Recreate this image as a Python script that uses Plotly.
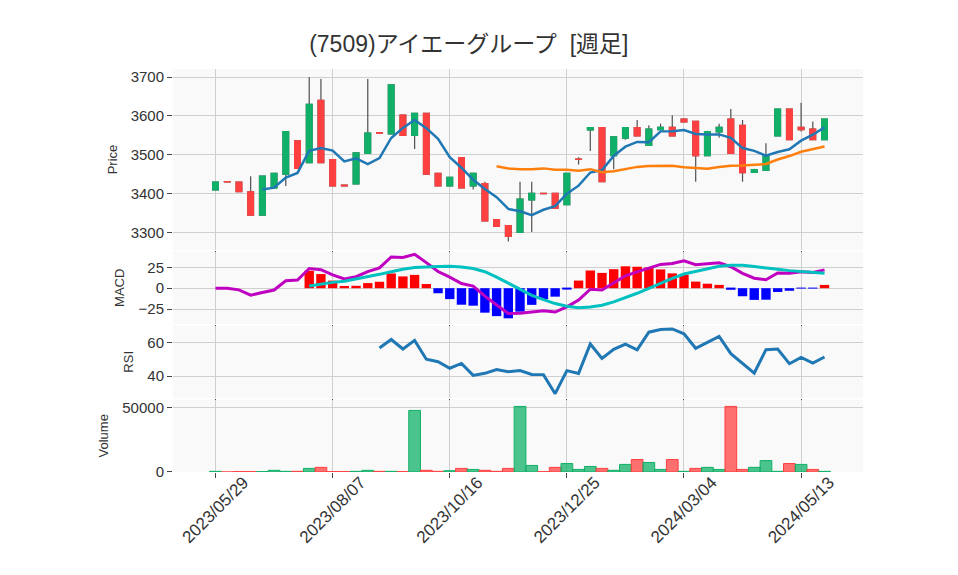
import numpy as np
import pandas as pd
import plotly.graph_objects as go
from plotly.subplots import make_subplots

# weekly bars, 2023/05/29 .. 2024/05/27
dates = pd.date_range("2023-05-29", periods=53, freq="W-MON")

open_ = [3410, 3431, 3430, 3405, 3345, 3415, 3450, 3536, 3480, 3640,
         3488, 3422, 3425, 3504, 3557, 3554, 3602, 3550, 3607, 3452,
         3420, 3493, 3420, 3426, 3333, 3318, 3300, 3384, 3401, 3401,
         3372, 3489, 3564, 3570, 3498, 3543, 3570, 3524, 3565, 3571,
         3592, 3586, 3498, 3559, 3592, 3576, 3455, 3460, 3549, 3618,
         3571, 3566, 3539]
high = [3430, 3431, 3430, 3445, 3445, 3452, 3560, 3536, 3700, 3695,
        3488, 3422, 3505, 3695, 3557, 3680, 3602, 3607, 3607, 3452,
        3442, 3493, 3452, 3431, 3333, 3318, 3431, 3431, 3401, 3401,
        3452, 3494, 3570, 3570, 3546, 3570, 3590, 3576, 3580, 3602,
        3592, 3586, 3562, 3580, 3618, 3590, 3464, 3530, 3618, 3618,
        3634, 3586, 3592]
low = [3410, 3430, 3405, 3345, 3345, 3415, 3420, 3465, 3480, 3480,
       3420, 3420, 3425, 3504, 3556, 3554, 3550, 3515, 3450, 3420,
       3420, 3415, 3411, 3330, 3316, 3277, 3300, 3301, 3400, 3362,
       3372, 3475, 3510, 3431, 3463, 3539, 3549, 3524, 3565, 3549,
       3585, 3431, 3498, 3544, 3504, 3431, 3455, 3460, 3549, 3539,
       3560, 3539, 3539]
close = [3430, 3430, 3405, 3345, 3445, 3452, 3560, 3465, 3630, 3480,
         3420, 3420, 3505, 3556, 3556, 3680, 3550, 3607, 3450, 3420,
         3442, 3415, 3452, 3330, 3316, 3290, 3386, 3401, 3400, 3362,
         3452, 3488, 3570, 3431, 3546, 3570, 3549, 3566, 3571, 3549,
         3585, 3498, 3560, 3571, 3504, 3454, 3462, 3498, 3618, 3539,
         3565, 3539, 3592]
volume = [500, 0, 300, 300, 300, 1300, 500, 500, 2800, 3600,
          300, 300, 500, 1300, 500, 500, 300, 47900, 1300, 500,
          1000, 2800, 2000, 1300, 500, 2800, 51000, 5100, 250, 3600,
          6600, 2000, 4300, 2800, 1300, 5900, 9700, 7400, 2000, 9700,
          500, 2800, 3600, 2000, 51000, 2000, 3600, 8900, 500, 6600,
          5900, 2000, 500]

df = pd.DataFrame({"Open": open_, "High": high, "Low": low,
                   "Close": close, "Volume": volume}, index=dates)

# indicators
df["MA5"] = df["Close"].rolling(5).mean()
df["MA25"] = df["Close"].rolling(25).mean()
ema12 = df["Close"].ewm(span=12, adjust=False).mean()
ema26 = df["Close"].ewm(span=26, adjust=False).mean()
df["MACD"] = ema12 - ema26
df["Signal"] = df["MACD"].rolling(9).mean()
df["Hist"] = df["MACD"] - df["Signal"]
diff = df["Close"].diff()
gain = diff.clip(lower=0).rolling(14).mean()
loss = (-diff.clip(upper=0)).rolling(14).mean()
df["RSI"] = 100 * gain / (gain + loss)

GREEN = "#10B068"
RED = "#FF4040"
up = np.r_[True, np.diff(df["Close"].values) > 0]
vol_fill = np.where(up, "rgba(16,176,104,0.75)", "rgba(255,64,64,0.75)")
vol_line = np.where(up, GREEN, RED)
hist_col = np.where(df["Hist"] >= 0, "#FF0000", "#0000FF")

fig = make_subplots(rows=4, cols=1, shared_xaxes=True, vertical_spacing=0.004,
                    row_heights=[2.5, 1, 1, 1])

# wicks (gray), then coloured bodies on top
fig.add_trace(go.Candlestick(x=df.index, open=df["Open"], high=df["High"],
                             low=df["Low"], close=df["Close"],
                             increasing=dict(line=dict(color="#505050", width=1.2), fillcolor="#505050"),
                             decreasing=dict(line=dict(color="#505050", width=1.2), fillcolor="#505050"),
                             showlegend=False, hoverinfo="skip"), row=1, col=1)
body_hi = df[["Open", "Close"]].max(axis=1)
body_lo = df[["Open", "Close"]].min(axis=1)
fig.add_trace(go.Candlestick(x=df.index, open=df["Open"], high=body_hi,
                             low=body_lo, close=df["Close"],
                             increasing=dict(line=dict(color=GREEN, width=1.2), fillcolor=GREEN),
                             decreasing=dict(line=dict(color=RED, width=1.2), fillcolor=RED),
                             showlegend=False, name="Price"), row=1, col=1)
fig.add_trace(go.Scatter(x=df.index, y=df["MA5"], mode="lines",
                         line=dict(color="#1f77b4", width=2.5), showlegend=False), row=1, col=1)
fig.add_trace(go.Scatter(x=df.index, y=df["MA25"], mode="lines",
                         line=dict(color="#ff7f0e", width=2.5), showlegend=False), row=1, col=1)

# MACD
fig.add_trace(go.Bar(x=df.index, y=df["Hist"], marker=dict(color=hist_col, line=dict(width=0)),
                     showlegend=False), row=2, col=1)
fig.add_trace(go.Scatter(x=df.index, y=df["MACD"], mode="lines",
                         line=dict(color="#C000C0", width=3), showlegend=False), row=2, col=1)
fig.add_trace(go.Scatter(x=df.index, y=df["Signal"], mode="lines",
                         line=dict(color="#00C0C0", width=3), showlegend=False), row=2, col=1)

# RSI
fig.add_trace(go.Scatter(x=df.index, y=df["RSI"], mode="lines",
                         line=dict(color="#1f77b4", width=3), showlegend=False), row=3, col=1)

# Volume
fig.add_trace(go.Bar(x=df.index, y=df["Volume"], width=7 * 86400000,
                     marker=dict(color=vol_fill, line=dict(color=vol_line, width=1)),
                     showlegend=False), row=4, col=1)

ticks = pd.date_range("2023-05-29", periods=6, freq="70D")
fig.update_xaxes(range=["2023-05-03 14:00", "2024-06-19"], tickvals=ticks,
                 tickformat="%Y/%m/%d", tickangle=-45, showgrid=True,
                 gridcolor="#CFCFCF", ticks="outside", ticklen=5,
                 tickfont=dict(size=17), ticklabelshift=28, ticklabelstandoff=-12,
                 automargin=False, rangeslider_visible=False, zeroline=False)
fig.update_yaxes(showgrid=True, gridcolor="#CFCFCF", ticks="outside", ticklen=5,
                 tickfont=dict(size=15), title_font=dict(size=13),
                 title_standoff=10, automargin=True, zeroline=False)
fig.update_yaxes(title_text="Price", range=[3255, 3721], dtick=100, row=1, col=1)
fig.update_yaxes(title_text="MACD", range=[-43, 44], tickvals=[-25, 0, 25], row=2, col=1)
fig.update_yaxes(title_text="RSI", range=[26.8, 70.5], tickvals=[40, 60], row=3, col=1)
fig.update_yaxes(title_text="Volume", range=[0, 56300], tickvals=[0, 50000],
                 tickformat="d", row=4, col=1)

fig.update_layout(
    width=958, height=575,
    template="plotly_white",
    plot_bgcolor="#F9F9F9",
    font=dict(family="Liberation Sans, Noto Sans CJK JP", size=13, color="#333"),
    title=dict(text="(7509)アイエーグループ  [週足]", x=0.481, xanchor="center",
               y=0.937, yanchor="middle", font=dict(size=23)),
    margin=dict(l=165, r=103, t=61, b=111, autoexpand=False),
    showlegend=False,
    barmode="overlay",
)

fig.write_html("out.html")
